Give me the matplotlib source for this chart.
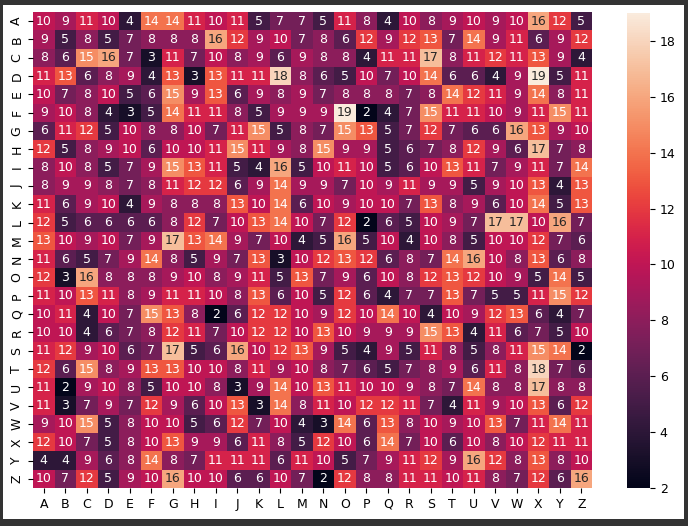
import matplotlib
matplotlib.use("Agg")
import matplotlib.pyplot as plt
import matplotlib.patches as patches
import numpy as np
import pandas as pd
import seaborn as sns

letters = [chr(c) for c in range(ord("A"), ord("Z") + 1)]

# rows A..Z, columns A..Z
counts = [
    [10, 9, 11, 10, 4, 14, 14, 11, 10, 11, 5, 7, 7, 5, 11, 8, 4, 10, 8, 9, 10, 9, 10, 16, 12, 5],
    [9, 5, 8, 5, 7, 8, 8, 8, 16, 12, 9, 10, 7, 8, 6, 12, 9, 12, 13, 7, 14, 9, 11, 6, 9, 12],
    [8, 6, 15, 16, 7, 3, 11, 7, 10, 8, 9, 6, 9, 8, 8, 4, 11, 11, 17, 8, 11, 12, 11, 13, 9, 4],
    [11, 13, 6, 8, 9, 4, 13, 3, 13, 11, 11, 18, 8, 6, 5, 10, 7, 10, 14, 6, 6, 4, 9, 19, 5, 11],
    [10, 7, 8, 10, 5, 6, 15, 9, 13, 6, 9, 8, 9, 7, 8, 8, 8, 7, 8, 14, 12, 11, 9, 14, 8, 11],
    [9, 10, 8, 4, 3, 5, 14, 11, 11, 8, 5, 9, 9, 9, 19, 2, 4, 7, 15, 11, 11, 10, 9, 11, 15, 11],
    [6, 11, 12, 5, 10, 8, 8, 10, 7, 11, 15, 5, 8, 7, 15, 13, 5, 7, 12, 7, 6, 6, 16, 13, 9, 10],
    [12, 5, 8, 9, 10, 6, 10, 10, 11, 15, 11, 9, 8, 15, 9, 9, 5, 6, 7, 8, 12, 9, 6, 17, 7, 8],
    [8, 10, 8, 5, 7, 9, 15, 13, 11, 5, 4, 16, 5, 10, 11, 10, 5, 6, 10, 13, 11, 7, 9, 11, 7, 14],
    [8, 9, 9, 8, 7, 8, 11, 12, 12, 6, 9, 14, 9, 9, 7, 10, 9, 11, 9, 9, 5, 9, 10, 13, 4, 13],
    [11, 6, 9, 10, 4, 9, 8, 8, 8, 13, 10, 14, 6, 10, 9, 10, 10, 7, 13, 8, 9, 6, 10, 14, 5, 13],
    [12, 5, 6, 6, 6, 6, 8, 12, 7, 10, 13, 14, 10, 7, 12, 2, 6, 5, 10, 9, 7, 17, 17, 10, 16, 7],
    [13, 10, 9, 10, 7, 9, 17, 13, 14, 9, 7, 10, 4, 5, 16, 5, 10, 4, 10, 8, 5, 10, 10, 12, 7, 6],
    [11, 6, 5, 7, 9, 14, 8, 5, 9, 7, 13, 3, 10, 12, 13, 12, 6, 8, 7, 14, 16, 10, 8, 13, 6, 8],
    [12, 3, 16, 8, 8, 8, 9, 10, 8, 9, 11, 5, 13, 7, 9, 6, 10, 8, 12, 13, 12, 10, 9, 5, 14, 5],
    [11, 10, 13, 11, 8, 9, 11, 11, 10, 8, 13, 6, 10, 5, 12, 6, 4, 7, 7, 13, 7, 5, 5, 11, 15, 12],
    [10, 11, 4, 10, 7, 15, 13, 8, 2, 6, 12, 12, 10, 9, 12, 10, 14, 10, 4, 10, 9, 12, 13, 6, 4, 7],
    [10, 10, 4, 6, 7, 8, 12, 11, 7, 10, 12, 12, 10, 13, 10, 9, 9, 9, 15, 13, 4, 11, 6, 7, 5, 10],
    [11, 12, 9, 10, 6, 7, 17, 5, 6, 16, 10, 12, 13, 9, 5, 4, 9, 5, 11, 8, 5, 8, 11, 15, 14, 2],
    [12, 6, 15, 8, 9, 13, 13, 10, 10, 8, 11, 9, 10, 8, 7, 6, 5, 7, 8, 9, 6, 11, 8, 18, 7, 6],
    [11, 2, 9, 10, 8, 5, 10, 10, 8, 3, 9, 14, 10, 13, 11, 10, 10, 9, 8, 7, 14, 8, 8, 17, 8, 8],
    [11, 3, 7, 9, 7, 12, 9, 6, 10, 13, 3, 14, 8, 11, 10, 12, 12, 11, 7, 4, 11, 9, 10, 13, 6, 12],
    [9, 10, 15, 5, 8, 10, 10, 5, 6, 12, 7, 10, 4, 3, 14, 6, 13, 8, 10, 9, 10, 13, 7, 11, 14, 11],
    [12, 10, 7, 5, 8, 10, 13, 9, 9, 6, 11, 8, 5, 12, 10, 6, 14, 7, 10, 6, 10, 8, 10, 12, 11, 11],
    [4, 4, 9, 6, 8, 14, 8, 7, 11, 11, 11, 6, 11, 10, 5, 7, 9, 11, 12, 9, 16, 12, 8, 13, 8, 10],
    [10, 7, 12, 5, 9, 10, 16, 10, 10, 6, 6, 10, 7, 2, 12, 8, 8, 11, 11, 10, 11, 8, 7, 12, 6, 16],
]

df = pd.DataFrame(np.array(counts), index=letters, columns=letters)

W, H = 688, 526
fig = plt.figure(figsize=(W / 100, H / 100), dpi=100, facecolor="#333333")
# white notebook output area inside the dark frame
fig.patches.append(patches.Rectangle((3 / W, 1 - 519 / H), 681 / W, 514 / H,
                                     transform=fig.transFigure, facecolor="white",
                                     edgecolor="none", zorder=-10))

ax = fig.add_axes([33 / W, 1 - 488 / H, 559 / W, 476 / H])
cax = fig.add_axes([627 / W, 1 - 488 / H, 23 / W, 475 / H])

sns.heatmap(df, annot=True, fmt="d", ax=ax, cbar_ax=cax, annot_kws={"fontsize": 9})

ax.tick_params(labelsize=9)
ax.set_yticklabels(letters, rotation=90, va="center")
ax.set_xticklabels(letters, rotation=0)
cax.tick_params(labelsize=9)

fig.savefig("out.png", dpi=100, facecolor=fig.get_facecolor())
